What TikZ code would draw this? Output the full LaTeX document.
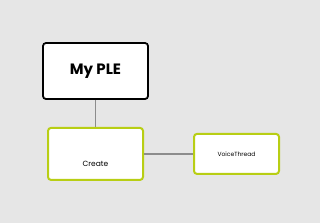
\documentclass[tikz,border=0pt]{standalone}
\usepackage{fontspec}
\setmainfont{Poppins}
\usetikzlibrary{positioning}
\definecolor{bggray}{RGB}{230,230,230}
\definecolor{limegreen}{RGB}{184,206,20}
\definecolor{linkgray}{RGB}{140,140,140}

\begin{document}
\begin{tikzpicture}[
      x=1pt, y=-1pt,
      node distance=27pt and 49pt,
      rootbox/.style={draw=black, line width=1.8pt, rounded corners=3pt, fill=white,
        minimum width=105pt, minimum height=56pt,
        font=\fontsize{15}{18}\selectfont\bfseries},
      leafbox/.style={draw=limegreen, line width=2pt, rounded corners=3pt, fill=white},
      link/.style={draw=linkgray, line width=1.3pt}
    ]
    \fill[bggray] (0,0) rectangle (320,223);
    \useasboundingbox (0,0) rectangle (320,223);
    \node[rootbox] (ple) at (95.5,71) {My PLE};
    \node[leafbox, below=of ple, minimum width=95pt, minimum height=52pt,
      label={[font=\fontsize{7.5}{8}\selectfont, yshift=-10pt]center:Create}] (create) {};
    \node[leafbox, right=of create, minimum width=85pt, minimum height=40pt,
      font=\fontsize{6}{7}\selectfont] (vt) {VoiceThread};

    \draw[link] (ple) -- (create);
    \draw[link] (create) -- (vt);
  \end{tikzpicture}
\end{document}
